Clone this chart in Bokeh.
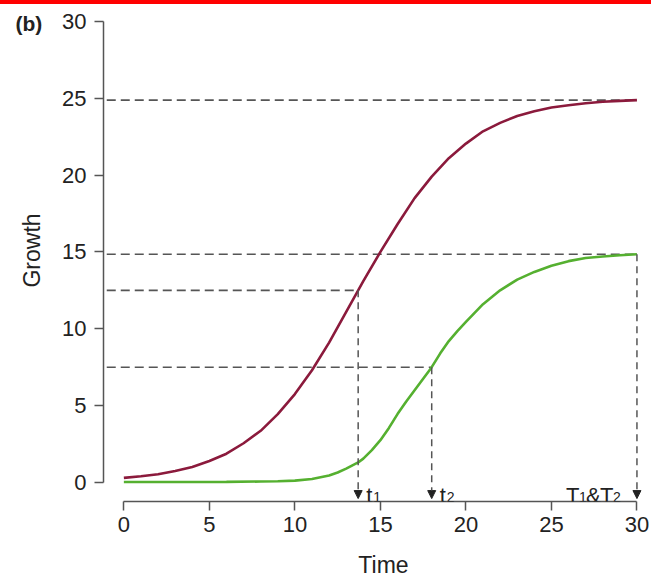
import math
from bokeh.plotting import figure
from bokeh.models import Range1d, FixedTicker, Label, Arrow, NormalHead, Div, ColumnDataSource
from bokeh.layouts import column
from bokeh.embed import file_html
from bokeh.resources import INLINE

# ---- data ----
time_red = [0, 1, 2, 3, 4, 5, 6, 7, 8, 9, 10, 11, 12, 13, 13.7, 14, 15, 16, 17, 18,
            19, 20, 21, 22, 23, 24, 25, 26, 27, 28, 29, 30]
growth_red = [0.3, 0.4, 0.53, 0.74, 1.01, 1.4, 1.87, 2.55, 3.36, 4.45, 5.75, 7.3, 9.1,
              11.1, 12.5, 13.1, 15.0, 16.8, 18.5, 19.9, 21.1, 22.05, 22.85, 23.4,
              23.85, 24.15, 24.4, 24.55, 24.68, 24.77, 24.83, 24.88]

time_green = [0, 2, 4, 6, 8, 9, 10, 11, 12, 12.5, 13, 13.7, 14, 14.5, 15, 15.5, 16, 16.5,
              17, 17.5, 18, 18.5, 19, 19.5, 20, 21, 22, 23, 24, 25, 26, 27, 28, 29, 30]
growth_green = [0.03, 0.03, 0.03, 0.04, 0.06, 0.08, 0.12, 0.22, 0.45, 0.65, 0.9, 1.3,
                1.55, 2.1, 2.75, 3.55, 4.45, 5.25, 6.0, 6.75, 7.5, 8.4, 9.2, 9.85,
                10.45, 11.6, 12.5, 13.2, 13.7, 14.1, 14.4, 14.6, 14.7, 14.78, 14.85]

x_ticks = [0, 5, 10, 15, 20, 25, 30]
y_ticks = [0, 5, 10, 15, 20, 25, 30]

# horizontal reference levels and where they end
ref_levels = [24.88, 14.85, 12.5, 7.5]
ref_ends = [30, 30, 13.7, 18]

# vertical arrows: time and level where they start
arrow_times = [13.7, 18, 30]
arrow_levels = [12.5, 7.5, 14.85]

RED = "#8B1A3C"
GREEN = "#55B030"
DASH = "#555555"
TXT = "#222222"
AX = "#555555"
FONT = "Liberation Sans"

p = figure(width=651, height=576, output_backend="svg", toolbar_location=None,
           x_range=Range1d(-1.19, 30.5), y_range=Range1d(-1.24, 30.19),
           min_border_left=103, min_border_right=6, min_border_top=14,
           min_border_bottom=79)
p.outline_line_color = None
p.xgrid.visible = False
p.ygrid.visible = False
p.background_fill_color = "white"
p.border_fill_color = "white"

for ax, ticks in ((p.xaxis, x_ticks), (p.yaxis, y_ticks)):
    ax.bounds = (0, 30)
    ax.ticker = FixedTicker(ticks=ticks)
    ax.minor_tick_line_color = None
    ax.major_tick_in = 0
    ax.major_tick_out = 9
    ax.axis_line_color = AX
    ax.axis_line_width = 1.5
    ax.major_tick_line_color = AX
    ax.major_tick_line_width = 1.5
    ax.major_label_text_font = FONT
    ax.major_label_text_font_size = "22px"
    ax.major_label_text_color = TXT

p.xaxis.major_label_standoff = 6
p.yaxis.major_label_standoff = 8

# horizontal dashed reference lines
ref_src = ColumnDataSource(dict(x0=[-1.0] * len(ref_levels), y=ref_levels, x1=ref_ends))
p.segment(x0="x0", y0="y", x1="x1", y1="y", source=ref_src,
          line_color=DASH, line_width=1.6, line_dash="9 5")

# curves
p.line(time_red, growth_red, line_color=RED, line_width=2.6)
p.line(time_green, growth_green, line_color=GREEN, line_width=2.6)

# vertical dashed arrows
for t, lv in zip(arrow_times, arrow_levels):
    p.add_layout(Arrow(end=NormalHead(size=8, fill_color=TXT, line_color=TXT, line_width=1),
                       x_start=t, y_start=lv, x_end=t, y_end=-1.05,
                       line_color=DASH, line_width=1.5, line_dash="7 5"))

def txt(x, y, s, xo, yo=0, size="22px", style="normal"):
    p.add_layout(Label(x=x, y=y, text=s, x_offset=xo, y_offset=yo,
                       text_font=FONT, text_font_size=size, text_font_style=style,
                       text_color=TXT, text_baseline="alphabetic", text_align="left"))

base_y = -0.87
txt(arrow_times[0], base_y, "t", 8)
txt(arrow_times[0], base_y, "1", 15, -1, "14px")
txt(arrow_times[1], base_y, "t", 8)
txt(arrow_times[1], base_y, "2", 15, -1, "14px")
txt(arrow_times[2], base_y, "T", -71)
txt(arrow_times[2], base_y, "1", -58, -1, "14px")
txt(arrow_times[2], base_y, "&", -51)
txt(arrow_times[2], base_y, "T", -37)
txt(arrow_times[2], base_y, "2", -24, -1, "14px")

# panel tag and axis titles, placed on the canvas in the side panels
def ctxt(x, y, s, size, side, style="normal", align="left", angle=0.0):
    p.add_layout(Label(x=x, y=y, x_units="canvas", y_units="canvas", text=s,
                       angle=angle, text_font=FONT, text_font_size=size,
                       text_font_style=style, text_color=TXT,
                       text_baseline="alphabetic", text_align=align), side)

ctxt(15, 19, "(b)", "21px", "left", style="bold")
ctxt(31, 246, "Growth", "23px", "left", align="center", angle=math.pi / 2)
ctxt(383, 560, "Time", "23px", "below", align="center")

band = Div(text="", width=651, height=4, margin=0,
           styles={"background-color": "#ff0000"})
layout = column(band, p, spacing=0)

open("out.html", "w").write(file_html(layout, INLINE))
